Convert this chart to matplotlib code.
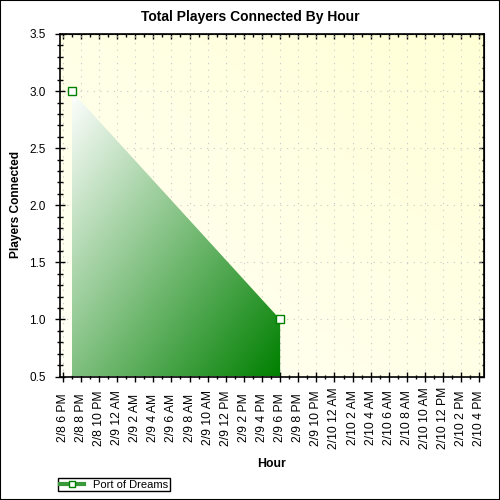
import numpy as np
import matplotlib
matplotlib.use("Agg")
import matplotlib.pyplot as plt
import matplotlib.dates as mdates
from matplotlib.colors import LinearSegmentedColormap
from matplotlib.lines import Line2D
from matplotlib.patches import Rectangle
from matplotlib.ticker import MultipleLocator
from datetime import datetime, timedelta

plt.rcParams["font.family"] = ["Liberation Sans", "DejaVu Sans"]

# data
series_name = "Port of Dreams"
hours = [datetime(2009, 2, 8, 19), datetime(2009, 2, 9, 18)]
players = [3.0, 1.0]

first_tick = datetime(2009, 2, 8, 18)
tick_labels = [
    "2/8 6 PM", "2/8 8 PM", "2/8 10 PM", "2/9 12 AM", "2/9 2 AM", "2/9 4 AM",
    "2/9 6 AM", "2/9 8 AM", "2/9 10 AM", "2/9 12 PM", "2/9 2 PM", "2/9 4 PM",
    "2/9 6 PM", "2/9 8 PM", "2/9 10 PM", "2/10 12 AM", "2/10 2 AM", "2/10 4 AM",
    "2/10 6 AM", "2/10 8 AM", "2/10 10 AM", "2/10 12 PM", "2/10 2 PM", "2/10 4 PM",
]
y_ticks = [0.5, 1.0, 1.5, 2.0, 2.5, 3.0, 3.5]

fig = plt.figure(figsize=(5, 5), dpi=100)
ax = fig.add_axes([59.5 / 500, 1 - 376.5 / 500, (484 - 59.5) / 500, (376.5 - 34) / 500])

x = mdates.date2num(hours)
tick_x = mdates.date2num([first_tick + timedelta(hours=2 * i) for i in range(len(tick_labels))])
minor_x = (tick_x[:-1] + tick_x[1:]) / 2
hr = 1 / 24

# pale yellow background gradient
bg = LinearSegmentedColormap.from_list("bg", ["#FFFFF6", "#FFFFD6"])
gx, gy = np.meshgrid(np.linspace(0, 1, 256), np.linspace(0, 1, 256))
ax.imshow((gx + gy) / 2, cmap=bg, vmin=0, vmax=1, extent=(0, 1, 0, 1),
          transform=ax.transAxes, origin="lower", aspect="auto", zorder=0)

# green area with diagonal gradient
poly = ax.fill_between(x, players, 0.5, facecolor="none", edgecolor="none")
green = LinearSegmentedColormap.from_list("green", ["#FFFFFF", "#008000"])
u, v = np.meshgrid(np.linspace(0, 1, 256), np.linspace(0, 1, 256))
img = ax.imshow((u + v) / 2, cmap=green, vmin=0, vmax=1,
                extent=(x[0], x[-1], 0.5, max(players)), origin="upper",
                aspect="auto", zorder=1)
img.set_clip_path(poly.get_paths()[0], transform=ax.transData)

ax.plot(x, players, linestyle="none", marker="s", ms=6, mfc="white",
        mec="#008000", mew=1, zorder=3, clip_on=False)

ax.set_xlim(tick_x[0] - 0.35 * hr, tick_x[-1] + 0.5 * hr)
ax.set_ylim(0.5, 3.5)

ax.set_axisbelow(True)
ax.grid(True, which="major", color="#C8C8C8", linestyle=(0, (1, 5)), linewidth=0.8)
for s in ax.spines.values():
    s.set_linewidth(1.2)

ax.set_xticks(tick_x, labels=tick_labels, rotation=90, va="center", ha="center", fontsize=8.7)
ax.set_xticks(minor_x, minor=True)
ax.tick_params(axis="x", which="major", direction="inout", length=6.5, width=1, pad=26.5)
ax.tick_params(axis="x", which="minor", direction="inout", length=3.4, width=1)

ax.set_yticks(y_ticks, labels=[f"{t:.1f}" for t in y_ticks], fontsize=8.5)
ax.yaxis.set_minor_locator(MultipleLocator(0.1))
ax.tick_params(axis="y", which="major", direction="inout", length=7.7, width=1, pad=6)
ax.tick_params(axis="y", which="minor", direction="inout", length=4.1, width=1)

top = ax.secondary_xaxis("top")
top.set_xticks(tick_x)
top.set_xticks(minor_x, minor=True)
top.tick_params(axis="x", which="major", direction="in", length=3.4, width=1, labeltop=False)
top.tick_params(axis="x", which="minor", direction="in", length=1.8, width=1)

right = ax.secondary_yaxis("right")
right.set_yticks(y_ticks)
right.yaxis.set_minor_locator(MultipleLocator(0.1))
right.tick_params(axis="y", which="major", direction="in", length=3.4, width=1, labelright=False)
right.tick_params(axis="y", which="minor", direction="in", length=1.8, width=1)

fig.text(0.5, 1 - 17 / 500, "Total Players Connected By Hour", ha="center", va="center",
         fontsize=10, fontweight="bold")
fig.text(16 / 500, 1 - 205 / 500, "Players Connected", rotation=90, ha="center", va="center",
         fontsize=8.6, fontweight="bold")
fig.text(271.75 / 500, 1 - 464 / 500, "Hour", ha="center", va="center",
         fontsize=8.8, fontweight="bold")

handle = Line2D([], [], color="#3A9A3A", lw=3, marker="s", ms=5, mfc="white", mec="#008000")
leg = fig.legend(handles=[handle], labels=[series_name], loc="upper left",
                 bbox_to_anchor=(58 / 500, 1 - 478 / 500), fancybox=False, edgecolor="black",
                 framealpha=1, fontsize=8, borderpad=0.15, handlelength=2.2,
                 handletextpad=0.8, borderaxespad=0)
leg.get_frame().set_linewidth(1)

fig.patches.append(Rectangle((0, 0), 1, 1, transform=fig.transFigure, fill=False,
                             edgecolor="black", linewidth=1.5))

fig.savefig("out.png", dpi=100)
